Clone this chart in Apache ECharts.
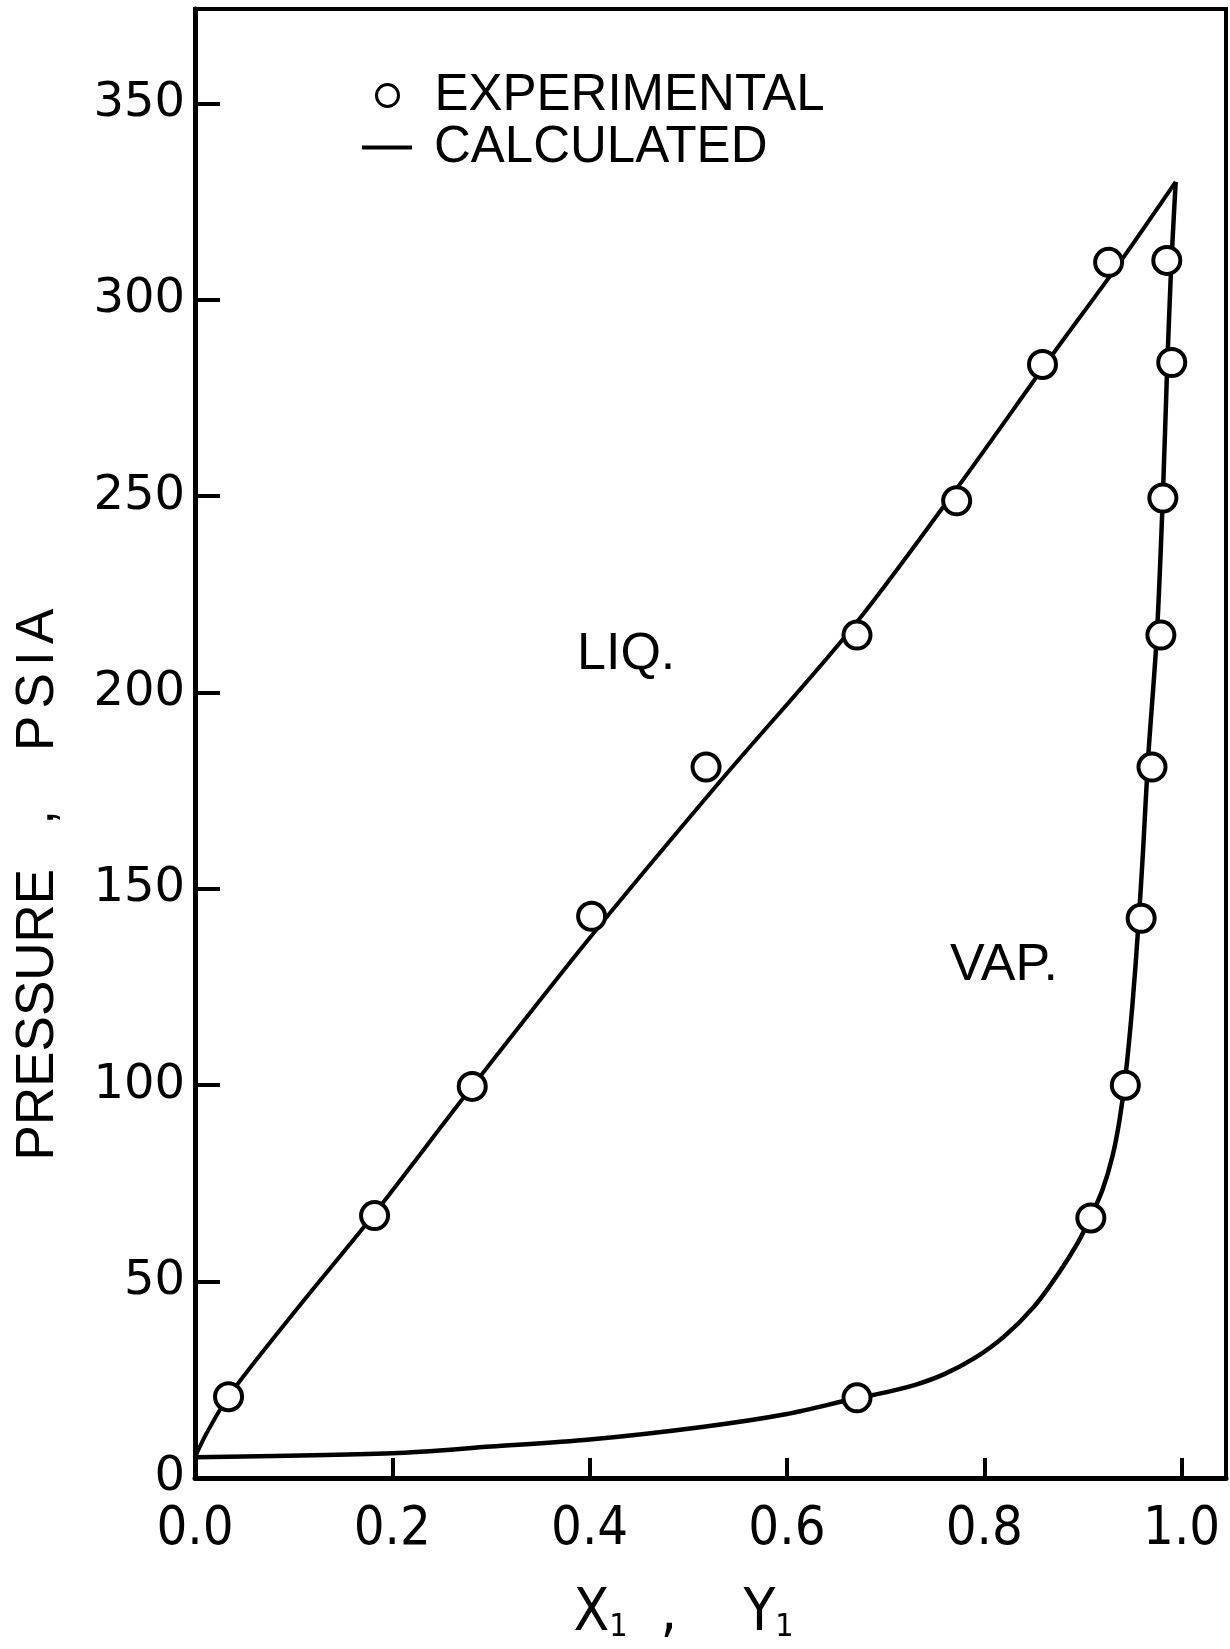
<!DOCTYPE html>
<html><head><meta charset="utf-8">
<script src="https://cdn.jsdelivr.net/npm/echarts@6/dist/echarts.min.js"></script>
<style>html,body{margin:0;padding:0;background:#fff}#c{width:1230px;height:1649px}</style>
</head><body><div id="c"></div>
<script>
// Experimental points: liquid (x1, P) and vapor (y1, P)
const liqExpX = [0.034, 0.182, 0.281, 0.402, 0.518, 0.671, 0.772, 0.859, 0.926];
const liqExpP = [20.7, 66.8, 99.7, 143, 181, 214.6, 248.8, 283.5, 309.5];
const vapExpY = [0.671, 0.908, 0.943, 0.959, 0.970, 0.979, 0.981, 0.990, 0.985];
const vapExpP = [20.4, 66.2, 100, 142.5, 181, 214.6, 249.5, 284, 310];
// Calculated curves
const liqCalcX = [0, 0.012, 0.034, 0.1, 0.179, 0.278, 0.4, 0.531, 0.668, 0.774, 0.868, 0.936, 0.994];
const liqCalcP = [5.3, 11.5, 20.8, 42, 66.4, 98.7, 137.5, 177, 217, 252.6, 285.6, 309, 330];
const vapCalcY = [0, 0.2, 0.3, 0.4, 0.514, 0.6, 0.67, 0.70, 0.73, 0.76, 0.79, 0.82, 0.85, 0.875, 0.895, 0.908, 0.92, 0.93, 0.937, 0.943, 0.950, 0.956, 0.961, 0.966, 0.975, 0.981, 0.985, 0.989, 0.991, 0.994];
const vapCalcP = [5.3, 6.3, 8, 9.8, 13, 16.3, 20.3, 21.8, 23.7, 26.5, 30.5, 36, 43.5, 52, 60, 66.5, 73.5, 82, 91, 102, 120, 140, 160, 183, 215, 250, 280, 306, 316, 330];
// Tick labels
const xTickVals = [0, 0.2, 0.4, 0.6, 0.8, 1.0];
const xTickLabels = ['0.0', '0.2', '0.4', '0.6', '0.8', '1.0'];
const yTickVals = [0, 50, 100, 150, 200, 250, 300, 350];
const yTickLabels = ['0', '50', '100', '150', '200', '250', '300', '350'];
// Region annotations (data coordinates)
const annoText = ['LIQ.', 'VAP.'];
const annoX = [0.437, 0.820];
const annoP = [209.5, 130.5];

const pair = (xs, ys) => xs.map((x, i) => [x, ys[i]]);
const labelFor = (vals, labels, v) => {
  for (let i = 0; i < vals.length; i++) if (Math.abs(vals[i] - v) < 1e-6) return labels[i];
  return '';
};
const NARROW = "'Liberation Sans Narrow', 'DejaVu Sans Condensed', sans-serif";
const SANS = "'Liberation Sans', Arial, sans-serif";

const chart = echarts.init(document.getElementById('c'));
const option = {
  animation: false,
  backgroundColor: '#fff',
  grid: {left: 195, right: 4, top: 9, bottom: 159, show: true, borderColor: '#000', borderWidth: 4, backgroundColor: 'transparent'},
  legend: [
    {data: ['EXPERIMENTAL'], orient: 'vertical', left: 375, top: 70, padding: 0,
     itemWidth: 22, itemHeight: 22,
     itemStyle: {color: '#fff', borderColor: '#000', borderWidth: 3},
     textStyle: {color: '#000', fontFamily: SANS, fontSize: 51, lineHeight: 50, padding: [0, 0, 0, 31]}},
    {data: [{name: 'CALCULATED', icon: 'rect'}], orient: 'vertical', left: 362, top: 122, padding: 0,
     itemWidth: 50, itemHeight: 4,
     itemStyle: {color: '#000', borderWidth: 0},
     textStyle: {color: '#000', fontFamily: SANS, fontSize: 51, lineHeight: 50, padding: [0, 0, 0, 17]}}
  ],
  xAxis: {
    type: 'value', min: 0, max: 1.045, interval: 0.2,
    axisLine: {show: true, onZero: false, lineStyle: {color: '#000', width: 5}},
    axisTick: {show: true, inside: true, length: 20, lineStyle: {color: '#000', width: 4}},
    splitLine: {show: false},
    axisLabel: {margin: 25, color: '#000', fontFamily: NARROW, fontSize: 54,
      formatter: v => labelFor(xTickVals, xTickLabels, v)},
    name: '{a|X}{s|1}{a|  ,    Y}{s|1}',
    nameLocation: 'middle', nameGap: 106,
    nameTextStyle: {padding: [0, 54, 0, 0],
      rich: {a: {fontFamily: NARROW, fontSize: 58, color: '#000', verticalAlign: 'bottom', lineHeight: 60},
             s: {fontFamily: NARROW, fontSize: 32, color: '#000', verticalAlign: 'bottom', lineHeight: 60}}}
  },
  yAxis: {
    type: 'value', min: 0, max: 374, interval: 50,
    axisLine: {show: true, onZero: false, lineStyle: {color: '#000', width: 5}},
    axisTick: {show: true, inside: true, length: 25, lineStyle: {color: '#000', width: 4}},
    splitLine: {show: false},
    axisLabel: {margin: 10, color: '#000', fontFamily: "'DejaVu Sans', sans-serif", fontSize: 48,
      formatter: v => labelFor(yTickVals, yTickLabels, v)},
    name: '{a|PRESSURE   ,    P}{g| }{a|S}{g| }{a|I}{g| }{a|A}',
    nameLocation: 'middle', nameGap: 130,
    nameTextStyle: {padding: [0, 282, 0, 0],
      rich: {a: {color: '#000', fontFamily: SANS, fontSize: 53},
             g: {color: '#000', fontFamily: SANS, fontSize: 26}}}
  },
  series: [
    {name: 'CALCULATED', type: 'line', data: pair(liqCalcX, liqCalcP), symbol: 'none', smooth: 0.3,
     itemStyle: {color: '#000'}, lineStyle: {color: '#000', width: 4}, z: 2},
    {name: 'CALCULATED', type: 'line', data: pair(vapCalcY, vapCalcP), symbol: 'none', smooth: 0.3,
     itemStyle: {color: '#000'}, lineStyle: {color: '#000', width: 4.5}, z: 2},
    {name: 'EXPERIMENTAL', type: 'scatter', data: pair(liqExpX, liqExpP).concat(pair(vapExpY, vapExpP)),
     symbol: 'circle', symbolSize: 27,
     itemStyle: {color: '#fff', borderColor: '#000', borderWidth: 4, opacity: 1}, z: 3}
  ]
};
chart.setOption(option);
const graphics = annoText.map((t, i) => {
  const p = chart.convertToPixel({gridIndex: 0}, [annoX[i], annoP[i]]);
  return {type: 'text', x: p[0], y: p[1], z: 10,
    style: {text: t, fill: '#000', font: "52px 'Liberation Sans', sans-serif", textAlign: 'center', textVerticalAlign: 'middle'}};
});
chart.setOption({graphic: graphics});
</script>
</body></html>
